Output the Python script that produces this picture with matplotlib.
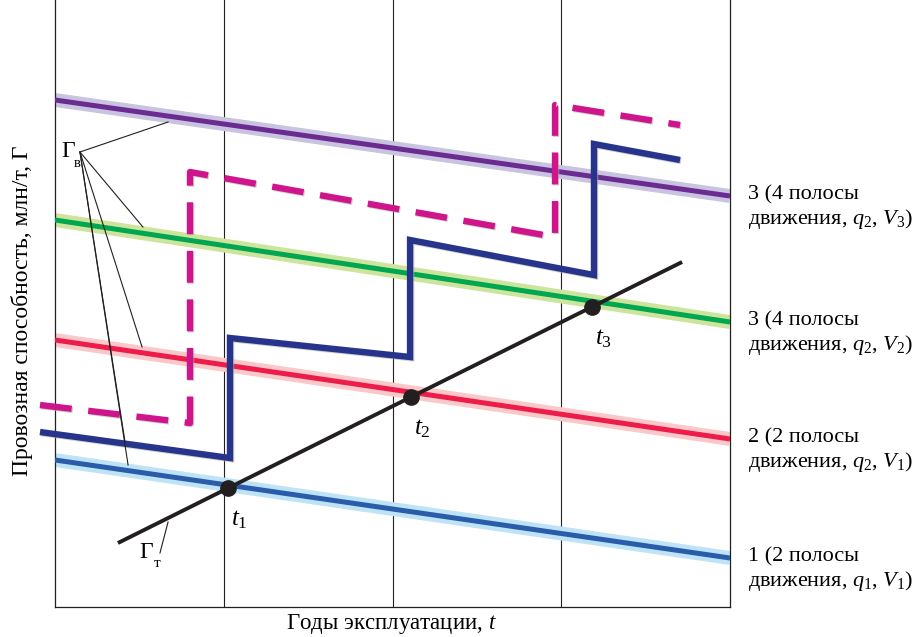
import matplotlib
matplotlib.use("Agg")
import matplotlib.pyplot as plt
import matplotlib.patheffects as pe
import numpy as np

plt.rcParams['font.family'] = ['Liberation Serif', 'DejaVu Serif']
plt.rcParams['mathtext.fontset'] = 'custom'
plt.rcParams['mathtext.rm'] = 'Liberation Serif'
plt.rcParams['mathtext.it'] = 'Liberation Serif:italic'

# ---- data (x: years of operation, y: capacity, arbitrary units) ----
line_x = [0.0, 4.0]
purple_y = [5.07, 4.11]   # 3 (4 lanes, q2, V3)
green_y = [3.87, 2.85]    # 3 (4 lanes, q2, V2)
red_y = [2.67, 1.68]      # 2 (2 lanes, q2, V1)
blue_y = [1.47, 0.49]     # 1 (2 lanes, q1, V1)

demand_x = [0.373, 3.716]  # Гт
demand_y = [0.64, 3.45]

step_x = [-0.089, 1.037, 1.037, 2.104, 2.104, 3.194, 3.194, 3.704]
step_y = [1.75, 1.49, 2.69, 2.50, 3.67, 3.32, 4.63, 4.47]

dash_x = [-0.089, 0.80, 0.80, 2.963, 2.963, 3.704]
dash_y = [2.02, 1.84, 4.35, 3.70, 5.02, 4.82]

t_x = [1.025, 2.11, 3.18]   # moments t1, t2, t3

grid_x = [1, 2, 3]

right_labels = [
    "3 (4 полосы\nдвижения, $q_2$, $V_3$)",
    "3 (4 полосы\nдвижения, $q_2$, $V_2$)",
    "2 (2 полосы\nдвижения, $q_2$, $V_1$)",
    "1 (2 полосы\nдвижения, $q_1$, $V_1$)",
]

fig = plt.figure(figsize=(9.23, 6.37), dpi=100)
ax = fig.add_axes([55/923, 30/637, 675/923, 607/637])
ax.set_xlim(0, 4)
ax.set_ylim(0, 6.07)
ax.set_xticks([])
ax.set_yticks([])
for s in ['left', 'bottom', 'right']:
    ax.spines[s].set_linewidth(0.9)
    ax.spines[s].set_color('#231f20')
ax.spines['top'].set_visible(False)

for gx in grid_x:
    ax.axvline(gx, color='#231f20', lw=0.8, zorder=1)

cores = ['#6a2c91', '#00a650', '#ed1c4a', '#2a5caa']
halos = ['#c9c3e0', '#cde49c', '#fac8c8', '#bfe3f6']
ys = [purple_y, green_y, red_y, blue_y]
for y, c, h in zip(ys, cores, halos):
    ax.plot(line_x, y, color=h, lw=10, solid_capstyle='butt', zorder=2)
    ax.plot(line_x, y, color=c, lw=3.6, solid_capstyle='butt', zorder=3)

shadow = [pe.SimpleLineShadow(offset=(0.8, -0.8), shadow_color='#b0b0b0', alpha=0.6), pe.Normal()]
ax.plot(dash_x, dash_y, color='#cf158c', lw=4.6, linestyle=(0, (5.0, 2.6)),
        solid_joinstyle='miter', clip_on=False, zorder=4, path_effects=shadow)
ax.plot(step_x, step_y, color='#27348b', lw=4.6, solid_joinstyle='miter',
        solid_capstyle='butt', clip_on=False, zorder=5, path_effects=shadow)

ax.plot(demand_x, demand_y, color='#231f20', lw=2.8, solid_capstyle='butt', zorder=6)

# points on the demand line at moments t1..t3
t_y = np.interp(t_x, demand_x, demand_y)
for i, (px, py) in enumerate(zip(t_x, t_y)):
    ax.plot(px, py, 'o', color='#231f20', ms=11, zorder=7)
    ax.text(px + 0.02, py - 0.20, f"$t_{i+1}$", fontsize=18, ha='left', va='top', zorder=8)

# Гв leaders
gv = (0.148, 4.55)
gv_ends = [(0.670, 4.85), (0.521, 3.80), (0.516, 2.60), (0.415, 1.65), (0.433, 1.42)]
for ex, ey in gv_ends:
    ax.plot([gv[0], ex], [gv[1], ey], color='#231f20', lw=0.8, zorder=8, clip_on=False)
ax.text(0.035, 4.50, "Г", fontsize=17, ha='left', va='baseline', zorder=9)
ax.text(0.112, 4.40, "в", fontsize=10.5, ha='left', va='baseline', zorder=9)

# Гт leader
ax.plot([0.622, 0.670], [0.54, 0.85], color='#231f20', lw=0.8, zorder=8)
ax.text(0.50, 0.49, "Г", fontsize=17, ha='left', va='baseline', zorder=9)
ax.text(0.585, 0.40, "т", fontsize=11, ha='left', va='baseline', zorder=9)

for y, lab in zip(ys, right_labels):
    ax.text(4.105, y[1] - 0.12, lab, fontsize=16, ha='left', va='center',
            linespacing=1.15, clip_on=False)

fig.text(22/923, 1-311/637, "Провозная способность, млн/т, Г", rotation=90,
         fontsize=17, ha='center', va='center')
fig.text(391/923, 1-624/637, "Годы эксплуатации, $t$", fontsize=16.5,
         ha='center', va='center')

fig.savefig("out.png", dpi=100)
